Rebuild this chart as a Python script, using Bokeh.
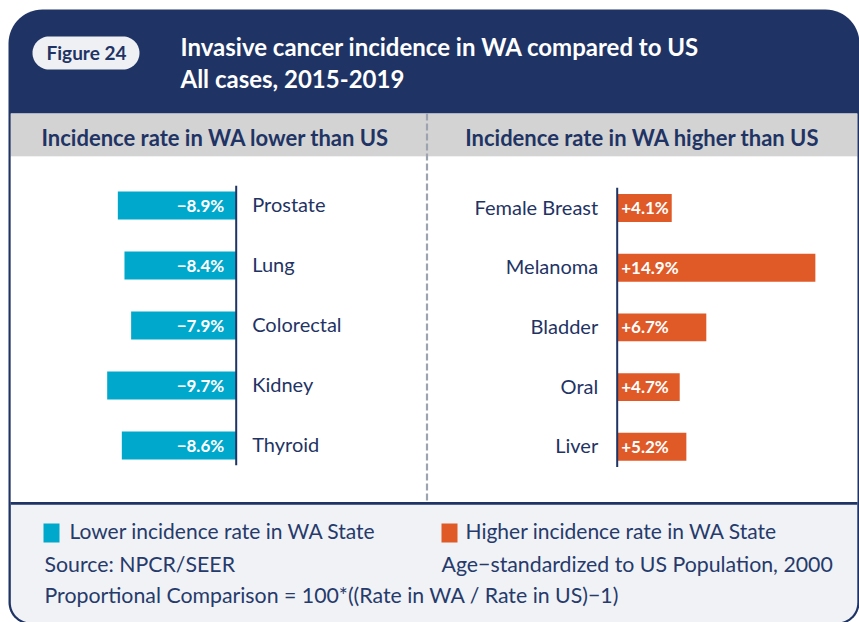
import numpy as np
from bokeh.plotting import figure
from bokeh.models import Range1d
from bokeh.core.properties import value
from bokeh.embed import file_html
from bokeh.resources import INLINE

# ---------------- data ----------------
lower_sites = ["Prostate", "Lung", "Colorectal", "Kidney", "Thyroid"]
lower_values = [-8.9, -8.4, -7.9, -9.7, -8.6]
higher_sites = ["Female Breast", "Melanoma", "Bladder", "Oral", "Liver"]
higher_values = [4.1, 14.9, 6.7, 4.7, 5.2]

figure_label = "Figure 24"
title_lines = ["Invasive cancer incidence in WA compared to US", "All cases, 2015-2019"]
left_heading = "Incidence rate in WA lower than US"
right_heading = "Incidence rate in WA higher than US"
legend_labels = ["Lower incidence rate in WA State", "Higher incidence rate in WA State"]
source_note = "Source: NPCR/SEER"
standard_note = "Age\u2212standardized to US Population, 2000"
formula_note = "Proportional Comparison = 100*((Rate in WA / Rate in US)\u22121)"

# ---------------- style ----------------
NAVY = "#1f3464"
TEXT = "#263a6b"
CYAN = "#00a8cb"
ORANGE = "#e05a28"
BAND = "#d3d3d3"
FOOT = "#f0f2f5"
PILL = "#eef0f4"
DASH = "#9ea3b0"
FONT = value("Lato")

X0, X1, Y0, Y1 = 0, 859, 0, 622
p = figure(width=X1 - X0, height=Y1 - Y0, x_range=Range1d(X0, X1), y_range=Range1d(Y1, Y0),
           output_backend="svg", toolbar_location=None, min_border=0,
           x_axis_location=None, y_axis_location=None)
p.grid.visible = False
p.outline_line_color = None
p.background_fill_color = "white"
p.border_fill_color = "white"

PX = 13.3  # pixels per percentage point
LZ, RZ = 235.7, 616.7
p.extra_x_ranges = {
    "lower": Range1d(-(LZ - X0) / PX, (X1 - LZ) / PX),
    "higher": Range1d(-(RZ - X0) / PX, (X1 - RZ) / PX),
}
p.extra_y_ranges = {
    "rowsL": Range1d((Y1 - 205) / 60.0, (Y0 - 205) / 60.0),
    "rowsR": Range1d((Y1 - 207.5) / 59.7, (Y0 - 207.5) / 59.7),
}


def rrect(x0, x1, y0, y1, rt, rb, n=16):
    xs, ys = [], []
    corners = [
        (x0 + rt, y0 + rt, rt, np.pi, 1.5 * np.pi),
        (x1 - rt, y0 + rt, rt, 1.5 * np.pi, 2 * np.pi),
        (x1 - rb, y1 - rb, rb, 0, 0.5 * np.pi),
        (x0 + rb, y1 - rb, rb, 0.5 * np.pi, np.pi),
    ]
    for cx, cy, r, a0, a1 in corners:
        t = np.linspace(a0, a1, n)
        xs.extend(cx + r * np.cos(t))
        ys.extend(cy + r * np.sin(t))
    return xs, ys


# card
xs, ys = rrect(8, 859, 9, 624, 34, 22)
p.patch(xs, ys, fill_color=NAVY, line_color=None)
xs, ys = rrect(10.3, 856.8, 113, 622, 0, 20)
p.patch(xs, ys, fill_color=FOOT, line_color=None)
p.quad(left=10.3, right=856.8, top=113, bottom=156, fill_color=BAND, line_color=None)
p.quad(left=10.3, right=856.8, top=156, bottom=501.5, fill_color="white", line_color=None)
p.quad(left=10.3, right=856.8, top=501.5, bottom=504.2, fill_color=NAVY, line_color=None)
p.segment(x0=426.5, y0=113, x1=426.5, y1=501.5, line_color=DASH, line_width=2.2, line_dash="7 3")

# header
xs, ys = rrect(32, 139, 36, 69, 16.5, 16.5)
p.patch(xs, ys, fill_color=PILL, line_color=None)
p.text(x=[86], y=[52], text=[figure_label], text_font=FONT, text_font_style="bold",
       text_font_size="19px", text_color=NAVY, text_align="center", text_baseline="alphabetic")
p.text(x=[180, 180], y=[46, 78], text=title_lines, text_font=FONT, text_font_style="bold",
       text_font_size="24px", text_color="white", text_align="left", text_baseline="alphabetic")
p.text(x=[215, 642], y=[136.5, 136.5], text=[left_heading, right_heading], text_font=FONT,
       text_font_style="bold", text_font_size="22px", text_color=NAVY, text_align="center",
       text_baseline="alphabetic")

# lower panel
rows_l = list(range(len(lower_sites)))
p.hbar(y=rows_l, left=lower_values, right=0, height=0.467, fill_color=CYAN, line_color=None,
       x_range_name="lower", y_range_name="rowsL")
p.segment(x0=0, y0=-0.33, x1=0, y1=len(rows_l) - 1 + 0.33, line_color=NAVY, line_width=2,
          x_range_name="lower", y_range_name="rowsL")
p.text(x=[0] * len(rows_l), y=rows_l, text=["\u2212%.1f%%" % abs(v) for v in lower_values],
       x_offset=-12, y_offset=-0.5, text_font=FONT, text_font_style="bold", text_font_size="17px",
       text_color="white", text_align="right", text_baseline="alphabetic",
       x_range_name="lower", y_range_name="rowsL")
p.text(x=[0] * len(rows_l), y=rows_l, text=lower_sites, x_offset=16, y_offset=-1.5,
       text_font=FONT, text_font_size="20px", text_color=NAVY, text_align="left",
       text_baseline="alphabetic", x_range_name="lower", y_range_name="rowsL")

# higher panel
rows_r = list(range(len(higher_sites)))
p.hbar(y=rows_r, left=0, right=higher_values, height=0.467, fill_color=ORANGE, line_color=None,
       x_range_name="higher", y_range_name="rowsR")
p.segment(x0=0, y0=-0.34, x1=0, y1=len(rows_r) - 1 + 0.34, line_color=NAVY, line_width=2,
          x_range_name="higher", y_range_name="rowsR")
p.text(x=[0] * len(rows_r), y=rows_r, text=["+%.1f%%" % v for v in higher_values],
       x_offset=4, y_offset=-0.5, text_font=FONT, text_font_style="bold", text_font_size="17px",
       text_color="white", text_align="left", text_baseline="alphabetic",
       x_range_name="higher", y_range_name="rowsR")
p.text(x=[0] * len(rows_r), y=rows_r, text=higher_sites, x_offset=-19, y_offset=-1.5,
       text_font=FONT, text_font_size="20px", text_color=NAVY, text_align="right",
       text_baseline="alphabetic", x_range_name="higher", y_range_name="rowsR")

# footer
p.quad(left=[43, 441], right=[59, 457], top=[523, 523], bottom=[542, 542],
       fill_color=[CYAN, ORANGE], line_color=None)
p.text(x=[69, 465], y=[530, 530], text=legend_labels, text_font=FONT, text_font_size="21px",
       text_color=TEXT, text_align="left", text_baseline="alphabetic")
p.text(x=[44, 441, 44], y=[563, 563, 594], text=[source_note, standard_note, formula_note],
       text_font=FONT, text_font_size="21.3px", text_color=TEXT, text_align="left",
       text_baseline="alphabetic")

open("out.html", "w").write(file_html(p, INLINE))
